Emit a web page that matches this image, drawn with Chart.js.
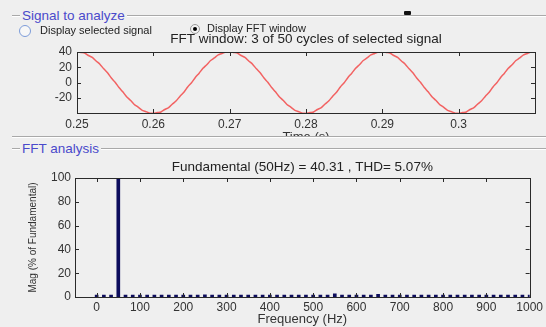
<!DOCTYPE html>
<html>
<head>
<meta charset="utf-8">
<script src="https://cdn.jsdelivr.net/npm/chart.js@4.4.1/dist/chart.umd.min.js"></script>
<style>
  body { margin: 0; width: 546px; height: 327px; overflow: hidden; background: #efefef; position: relative;
         font-family: "Liberation Sans", Arial, sans-serif; }
  .abs { position: absolute; }
  .etch { position: absolute; height: 1px; background: #a9a9a9; border-bottom: 1px solid #fff; }
  .ptitle { position: absolute; color: #4a4acb; font-size: 13.5px; line-height: 15px; background: #efefef; padding: 0 2px; z-index: 3; }
  .rtext { position: absolute; font-size: 11px; line-height: 11px; color: #222; z-index: 3; }
  #sigWrap { left: 0; top: 0; z-index: 1; }
  #fftWrap { left: 0; top: 136px; width: 546px; height: 191px; background: #efefef; z-index: 2; }
</style>
</head>
<body>
  <!-- panel "Signal to analyze" -->
  <div class="etch" style="left:12px; top:15px; width:534px;"></div>
  <div class="ptitle" style="left:20px; top:8px;">Signal to analyze</div>
  <div class="abs" style="left:404px; top:11px; width:7px; height:4px; background:#111; border-radius:1px; z-index:3;"></div>

  <div class="abs" style="left:19px; top:25px; width:10px; height:10px; border:1px solid #7c9bd8; border-radius:50%; background:#f7f7f7; z-index:3;"></div>
  <div class="rtext" style="left:40px; top:25px;">Display selected signal</div>
  <div class="abs" style="left:190px; top:24px; width:8px; height:8px; border:1px solid #999; border-radius:50%; background:#f2f2f2; z-index:3;">
    <div class="abs" style="left:2px; top:2px; width:4px; height:4px; border-radius:50%; background:#000;"></div>
  </div>
  <div class="rtext" style="left:207px; top:23px;">Display FFT window</div>

  <div id="sigWrap" class="abs"><canvas id="sig" width="546" height="150"></canvas></div>

  <!-- panel "FFT analysis" -->
  <div id="fftWrap" class="abs">
    <div class="etch" style="left:12px; top:0px; width:534px;"></div>
    <div class="etch" style="left:12px; top:12px; width:534px;"></div>
    <div class="ptitle" style="left:20px; top:5px;">FFT analysis</div>
    <canvas id="fft" width="546" height="191"></canvas>
  </div>

<script>
// signal window: 3 cycles of 50 Hz, sampled every 0.5 ms
const signalStart = 0.25;
const signalStep = 0.0005;
const signalValues = [
  40.6, 39.4, 38.7, 35.4, 33.0, 28.2, 24.0, 17.9, 12.8, 5.9, 0.3, -6.6, -12.2, -18.6, -23.4, -28.8, -32.3, -36.2, -38.1, -40.0,
  -40.6, -39.4, -38.7, -35.4, -33.0, -28.2, -24.0, -17.9, -12.8, -5.9, -0.3, 6.6, 12.2, 18.6, 23.4, 28.8, 32.3, 36.2, 38.1, 40.0,
  40.6, 39.4, 38.7, 35.4, 33.0, 28.2, 24.0, 17.9, 12.8, 5.9, 0.3, -6.6, -12.2, -18.6, -23.4, -28.8, -32.3, -36.2, -38.1, -40.0,
  -40.6, -39.4, -38.7, -35.4, -33.0, -28.2, -24.0, -17.9, -12.8, -5.9, -0.3, 6.6, 12.2, 18.6, 23.4, 28.8, 32.3, 36.2, 38.1, 40.0,
  40.6, 39.4, 38.7, 35.4, 33.0, 28.2, 24.0, 17.9, 12.8, 5.9, 0.3, -6.6, -12.2, -18.6, -23.4, -28.8, -32.3, -36.2, -38.1, -40.0,
  -40.6, -39.4, -38.7, -35.4, -33.0, -28.2, -24.0, -17.9, -12.8, -5.9, -0.3, 6.6, 12.2, 18.6, 23.4, 28.8, 32.3, 36.2, 38.1, 40.0,
  40.6
];
const timeTicks = [0.25, 0.26, 0.27, 0.28, 0.29, 0.3, 0.31];
const sigTicks = [-40, -20, 0, 20, 40];

// FFT bins every 50/3 Hz (3-cycle window), magnitude in % of fundamental
const fftStep = 50 / 3;
const fftValues = [
  1.4, 0.5, 0.5, 100, 0.5, 0.5, 0.5, 0.5, 0.5, 0.5,
  0.5, 0.5, 0.5, 0.5, 0.5, 1.8, 0.5, 0.5, 0.5, 0.5,
  0.5, 1.6, 0.5, 0.5, 0.5, 0.5, 0.5, 0.5, 0.5, 0.5,
  0.5, 0.5, 0.5, 2.7, 0.5, 0.5, 0.5, 0.5, 0.5, 2.2,
  0.5, 0.5, 0.5, 0.5, 0.5, 0.5, 0.5, 0.5, 0.5, 0.5,
  0.5, 0.5, 0.5, 0.5, 0.5, 0.5, 0.5, 0.5, 0.5, 0.5,
  0.5
];
const freqTicks = [0, 100, 200, 300, 400, 500, 600, 700, 800, 900, 1000];
const magTicks = [0, 20, 40, 60, 80, 100];

const sigTitle = 'FFT window: 3 of 50 cycles of selected signal';
const fftTitle = 'Fundamental (50Hz) = 40.31 , THD= 5.07%';

const fam = '"Liberation Sans", Arial, sans-serif';
const tickFont = { family: fam, size: 12 };
const axisTitleFont = { family: fam, size: 13 };
const ink = '#2a2a2a';

// matlab style axes: full box, tick marks inside, title above the box
const matlabBox = {
  id: 'matlabBox',
  afterDraw(chart, args, opts) {
    const { ctx, chartArea: a, scales } = chart;
    ctx.save();
    ctx.strokeStyle = ink;
    ctx.lineWidth = 1;
    ctx.strokeRect(Math.round(a.left) + 0.5, Math.round(a.top) + 0.5, Math.round(a.right - a.left), Math.round(a.bottom - a.top));
    const len = 4;
    ctx.beginPath();
    scales.x.ticks.forEach(t => {
      const px = Math.round(scales.x.getPixelForValue(t.value)) + 0.5;
      if (px < a.left + 2 || px > a.right - 2) return;
      ctx.moveTo(px, a.bottom); ctx.lineTo(px, a.bottom - len);
      ctx.moveTo(px, a.top); ctx.lineTo(px, a.top + len);
    });
    scales.y.ticks.forEach(t => {
      const py = Math.round(scales.y.getPixelForValue(t.value)) + 0.5;
      if (py < a.top + 2 || py > a.bottom - 2) return;
      ctx.moveTo(a.left, py); ctx.lineTo(a.left + len, py);
      ctx.moveTo(a.right, py); ctx.lineTo(a.right - len, py);
    });
    ctx.stroke();
    ctx.fillStyle = '#222';
    ctx.font = '13.5px ' + fam;
    ctx.textAlign = 'center';
    ctx.textBaseline = 'middle';
    ctx.fillText(opts.text, (a.left + a.right) / 2, a.top - opts.offset);
    ctx.restore();
  }
};

const fixedTicks = list => s => { s.ticks = list.map(v => ({ value: v })); };

new Chart(document.getElementById('sig'), {
  type: 'line',
  data: {
    datasets: [{
      data: signalValues.map((v, i) => ({ x: signalStart + i * signalStep, y: v })),
      borderColor: '#f26262',
      borderWidth: 1.5,
      pointRadius: 0,
      tension: 0.2,
      fill: false
    }]
  },
  options: {
    responsive: false,
    animation: false,
    layout: { padding: { top: 52, right: 11, bottom: 5, left: 0 } },
    plugins: {
      legend: { display: false },
      tooltip: { enabled: false },
      matlabBox: { text: sigTitle, offset: 13 }
    },
    scales: {
      x: {
        type: 'linear', min: 0.25, max: 0.31,
        grid: { display: false, drawTicks: false },
        border: { display: false },
        afterBuildTicks: fixedTicks(timeTicks),
        ticks: {
          padding: 4, color: '#333', font: tickFont, maxRotation: 0, autoSkip: false,
          callback: v => (v > 0.305 ? '' : String(v))
        },
        title: { display: true, text: 'Time (s)', color: '#333', font: axisTitleFont, padding: { top: 0, bottom: 0 } },
        afterFit: s => { s.height = 32; }
      },
      y: {
        min: -40, max: 40,
        grid: { display: false, drawTicks: false },
        border: { display: false },
        afterBuildTicks: fixedTicks(sigTicks),
        ticks: { padding: 5, color: '#333', font: tickFont, autoSkip: false, callback: v => (v === -40 ? '' : String(v)) },
        afterFit: s => { s.width = 77; }
      }
    }
  },
  plugins: [matlabBox]
});

new Chart(document.getElementById('fft'), {
  type: 'bar',
  data: {
    datasets: [{
      data: fftValues.map((v, i) => ({ x: i * fftStep, y: v })),
      backgroundColor: '#0c0c5c',
      barThickness: 3,
      minBarLength: 2
    }]
  },
  options: {
    responsive: false,
    animation: false,
    layout: { padding: { top: 42, right: 10, bottom: 0, left: 0 } },
    plugins: {
      legend: { display: false },
      tooltip: { enabled: false },
      matlabBox: { text: fftTitle, offset: 11 }
    },
    scales: {
      x: {
        type: 'linear', min: -50, max: 1000, offset: false,
        grid: { display: false, drawTicks: false, offset: false },
        border: { display: false },
        afterBuildTicks: fixedTicks(freqTicks),
        ticks: { padding: 3, color: '#333', font: tickFont, maxRotation: 0, autoSkip: false, callback: v => String(v) },
        title: { display: true, text: 'Frequency (Hz)', color: '#333', font: axisTitleFont, padding: { top: 0, bottom: 0 } },
        afterFit: s => { s.height = 30; }
      },
      y: {
        min: 0, max: 100,
        grid: { display: false, drawTicks: false },
        border: { display: false },
        afterBuildTicks: fixedTicks(magTicks),
        ticks: { padding: 4, color: '#333', font: tickFont, autoSkip: false, callback: v => String(v) },
        title: { display: true, text: 'Mag (% of Fundamental)', color: '#333',
                 font: { family: fam, size: 10 }, padding: { top: 27, bottom: 0 } },
        afterFit: s => { s.width = 75; }
      }
    }
  },
  plugins: [matlabBox]
});
</script>
</body>
</html>
